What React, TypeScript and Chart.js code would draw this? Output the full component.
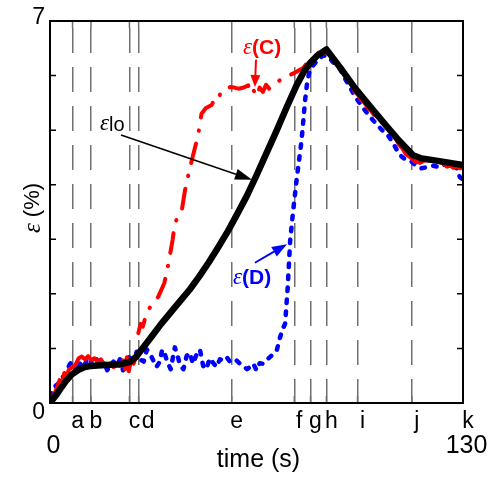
import React, { useEffect, useRef } from 'react';
import { Chart, registerables } from 'chart.js';

Chart.register(...registerables);

// ---------- data ----------
const EVENT_TIMES = [7.1, 12.9, 25, 27.9, 57.2, 76.9, 82, 87, 96.8, 113.9, 130];
const EVENT_LABELS = ['a', 'b', 'c', 'd', 'e', 'f', 'g', 'h', 'i', 'j', 'k'];
const X_END_VALUES = [0, 130];
const X_END_LABELS = ['0', '130'];
const Y_TICKS = [1, 2, 3, 4, 5, 6];
const Y_LABEL_VALUES = [0, 7];
const Y_LABELS = ['0', '7'];

// eps_lo (black)
const T_LO = [0, 2, 3.5, 5, 7, 9, 11, 13, 16, 19, 22, 25, 27, 29.4, 32, 35, 38, 41, 44, 47, 50, 53, 56, 59, 62, 65, 68, 71.4, 74.5, 77.6, 80, 82, 84, 87, 91.3, 96, 101.7, 106, 110, 114.3, 117, 120.6, 125, 130];
const V_LO = [0, 0.15, 0.28, 0.4, 0.53, 0.61, 0.66, 0.68, 0.69, 0.7, 0.71, 0.75, 0.84, 1.02, 1.22, 1.45, 1.66, 1.87, 2.08, 2.32, 2.58, 2.86, 3.15, 3.47, 3.8, 4.17, 4.56, 5.0, 5.42, 5.82, 6.08, 6.24, 6.36, 6.48, 6.15, 5.77, 5.37, 5.07, 4.8, 4.54, 4.48, 4.45, 4.41, 4.36];

// eps(C) (red)
const T_C = [0, 1, 2, 3, 3.8, 4.5, 5.2, 6, 7, 8, 9, 10, 11, 12, 13, 14, 15, 16, 17, 18, 19, 20, 21, 22, 23, 23.6, 24.2, 24.8, 25.5, 26.3, 27, 27.5,
  27.65,
  27.8, 28.5, 29.2, 30.4, 32, 34.1, 36, 37.1, 38.6, 39.3, 41.5, 42.5, 44, 46.6, 47.7, 49, 50.9, 52, 53, 54, 55.5, 56.7, 58, 59.3, 61, 62.4, 63, 64, 65, 66, 67, 68, 69, 70.3, 72, 74.3, 77, 79.7, 80.5, 81.5, 82.5, 83.5, 84.5, 86, 87,
  88, 90, 92, 94, 95, 96, 97, 98, 99, 100, 101, 102, 103, 104.5, 106, 108, 110, 111, 112, 113, 114, 115, 116.5, 118, 120, 122, 124, 125, 126, 127, 128, 129, 130];
const V_C = [0.05, 0.12, 0.25, 0.42, 0.35, 0.55, 0.5, 0.62, 0.65, 0.7, 0.82, 0.85, 0.8, 0.86, 0.78, 0.82, 0.76, 0.8, 0.7, 0.68, 0.72, 0.66, 0.7, 0.68, 0.78, 0.62, 0.84, 0.58, 0.8, 0.72, 0.84, 0.86,
  null,
  1.28, 1.45, 1.4, 1.65, 1.8, 1.95, 2.2, 2.5, 2.99, 3.3, 3.53, 3.9, 4.3, 4.9, 5.3, 5.4, 5.46, 5.6, 5.58, 5.72, 5.75, 5.79, 5.78, 5.76, 5.78, 5.82, 5.68, 5.74, 5.62, 5.78, 5.7, 5.83, 5.76, 5.8, 5.9, 5.98, 6.05, 6.14, 6.2, 6.12, 6.3, 6.25, 6.42, 6.41, 6.43,
  6.38, 6.25, 6.09, 5.93, 5.83, 5.7, 5.64, 5.55, 5.5, 5.41, 5.36, 5.28, 5.26, 5.18, 5.07, 4.93, 4.72, 4.66, 4.56, 4.52, 4.47, 4.42, 4.4, 4.45, 4.45, 4.43, 4.38, 4.33, 4.35, 4.31, 4.33, 4.3, 4.32];

// eps(D) (blue)
const T_D = [0, 0.6, 1.5, 2.5, 3.5, 4.5, 5.5, 6.3, 7.2, 8.4, 9.5, 10.5, 11.5, 12.5, 13.5, 14.7, 15.8, 17, 18, 18.9, 20, 21, 22, 23, 24, 25.2, 26.3, 27.3, 28.3, 29.5, 30.5, 31.5, 32.5, 33.5, 34.6, 35.3, 36, 37, 38, 39.3, 40.2, 40.9, 42, 43, 44, 45, 46.2, 47.2, 48.2, 49.2, 50.3, 51.3, 52.4, 53.5, 54.5, 55.6, 56.6, 57.6, 58.7, 59.8, 60.8, 62, 63, 64, 65, 66, 67, 68, 69.2, 70.3, 71.4, 72.4, 73.2, 74, 74.8, 75.6, 76.5, 77.6, 78.4, 79.2, 80.3, 81, 81.8, 83, 84.5, 86, 87.5, 89, 91.3, 93, 94.4, 96, 98, 100, 101.7, 103, 104.5, 106, 108, 110, 111.5, 113.3, 115, 116.8, 118.6, 120.5, 122.8, 124.5, 126.9, 128, 129, 130];
const V_D = [0.12, 0.18, 0.3, 0.35, 0.45, 0.5, 0.62, 0.72, 0.76, 0.57, 0.72, 0.64, 0.78, 0.68, 0.84, 0.8, 0.64, 0.76, 0.6, 0.68, 0.76, 0.68, 0.8, 0.6, 0.72, 0.88, 0.74, 0.94, 0.8, 0.76, 0.98, 0.9, 0.78, 0.66, 0.76, 0.98, 0.92, 0.74, 0.62, 1.02, 0.86, 0.7, 0.62, 0.86, 0.92, 0.72, 0.9, 0.98, 0.68, 0.62, 0.82, 0.74, 0.66, 0.8, 0.78, 0.84, 0.76, 0.8, 0.78, 0.72, 0.68, 0.62, 0.66, 0.72, 0.6, 0.73, 0.72, 0.78, 0.84, 0.9, 0.97, 1.2, 1.35, 1.45, 2.1, 2.98, 3.5, 4.08, 4.45, 4.82, 5.55, 5.9, 6.1, 6.2, 6.3, 6.37, 6.35, 6.25, 6.12, 5.93, 5.79, 5.62, 5.45, 5.3, 5.18, 5.1, 5.0, 4.94, 4.76, 4.55, 4.48, 4.45, 4.36, 4.3, 4.32, 4.35, 4.32, 4.38, 4.4, 4.3, 4.14, 4.1];

// ---------- annotation config (data coordinates) ----------
const SANS = "'Liberation Sans', Arial, sans-serif";
const SERIF = "'Liberation Serif', 'Times New Roman', serif";
const ANNOTATIONS = [
  {
    color: '#000000', textAt: [15.74, 5.0],
    parts: [{ text: 'ε', font: `italic 23px ${SERIF}`, dy: 0 }, { text: 'lo', font: `20px ${SANS}`, dy: 1 }],
    arrowFrom: [22.35, 4.91], arrowTo: [63.58, 4.09], lw: 1.5, headLen: 17, headW: 11,
  },
  {
    color: '#ff0000', textAt: [60.75, 6.4],
    parts: [{ text: 'ε', font: `italic 23px ${SERIF}`, dy: 0 }, { text: '(C)', font: `bold 21px ${SANS}`, dy: 0 }],
    arrowFrom: [64.84, 6.29], arrowTo: [64.5, 5.79], lw: 2, headLen: 12, headW: 10,
  },
  {
    color: '#0000ff', textAt: [57.6, 2.18],
    parts: [{ text: 'ε', font: `italic 23px ${SERIF}`, dy: 0 }, { text: '(D)', font: `bold 21px ${SANS}`, dy: 0 }],
    arrowFrom: [64.5, 2.57], arrowTo: [74.6, 2.91], lw: 2, headLen: 15, headW: 11,
  },
];

const GRID_GRAY = '#707070';

function toXY(t: number[], v: (number | null)[]) {
  return t.map((x, i) => ({ x, y: v[i] }));
}

function drawArrow(ctx: CanvasRenderingContext2D, x0: number, y0: number, x1: number, y1: number, color: string, lw: number, headLen: number, headW: number) {
  const ang = Math.atan2(y1 - y0, x1 - x0);
  const bx = x1 - headLen * Math.cos(ang);
  const by = y1 - headLen * Math.sin(ang);
  ctx.save();
  ctx.strokeStyle = color;
  ctx.fillStyle = color;
  ctx.lineWidth = lw;
  ctx.beginPath();
  ctx.moveTo(x0, y0);
  ctx.lineTo(bx, by);
  ctx.stroke();
  ctx.beginPath();
  ctx.moveTo(x1, y1);
  ctx.lineTo(bx + (headW / 2) * Math.sin(ang), by - (headW / 2) * Math.cos(ang));
  ctx.lineTo(bx - (headW / 2) * Math.sin(ang), by + (headW / 2) * Math.cos(ang));
  ctx.closePath();
  ctx.fill();
  ctx.restore();
}

const decorPlugin = {
  id: 'decor',
  beforeDraw(chart: any) {
    const { ctx, width, height } = chart;
    ctx.save();
    ctx.fillStyle = '#ffffff';
    ctx.fillRect(0, 0, width, height);
    ctx.restore();
  },
  afterDraw(chart: any) {
    const { ctx, chartArea } = chart;
    const xs = chart.scales.x;
    const ys = chart.scales.y;
    const { left, right, top, bottom } = chartArea;
    ctx.save();

    // small top / bottom ticks at event lines
    ctx.strokeStyle = GRID_GRAY;
    ctx.lineWidth = 1.5;
    EVENT_TIMES.slice(0, -1).forEach((t) => {
      const px = xs.getPixelForValue(t);
      ctx.beginPath();
      ctx.moveTo(px, top);
      ctx.lineTo(px, top + 7);
      ctx.moveTo(px, bottom);
      ctx.lineTo(px, bottom - 7);
      ctx.stroke();
    });

    // frame
    ctx.strokeStyle = '#000000';
    ctx.lineWidth = 2;
    ctx.strokeRect(left, top, right - left, bottom - top);

    // inward y ticks on both sides
    ctx.lineWidth = 1.5;
    Y_TICKS.forEach((v) => {
      const py = ys.getPixelForValue(v);
      ctx.beginPath();
      ctx.moveTo(left, py);
      ctx.lineTo(left + 6, py);
      ctx.moveTo(right, py);
      ctx.lineTo(right - 6, py);
      ctx.stroke();
    });

    ctx.fillStyle = '#000000';
    // y labels
    ctx.font = `23px ${SANS}`;
    ctx.textAlign = 'right';
    ctx.textBaseline = 'middle';
    Y_LABEL_VALUES.forEach((v, i) => {
      const py = ys.getPixelForValue(v);
      const shift = v === 0 ? 10 : -3;
      ctx.fillText(Y_LABELS[i], left - 5, py + shift);
    });

    // event letters (centered a little right of each line, never overlapping)
    ctx.textBaseline = 'alphabetic';
    ctx.textAlign = 'left';
    ctx.font = `23px ${SANS}`;
    let prevEnd = -Infinity;
    EVENT_TIMES.forEach((t, i) => {
      const px = xs.getPixelForValue(t);
      const w = ctx.measureText(EVENT_LABELS[i]).width;
      let x0 = px + 5 - w / 2;
      if (x0 < prevEnd + 1.5) x0 = prevEnd + 1.5;
      ctx.fillText(EVENT_LABELS[i], x0, bottom + 25);
      prevEnd = x0 + w;
    });

    // end values
    ctx.textAlign = 'center';
    ctx.font = `25px ${SANS}`;
    X_END_VALUES.forEach((v, i) => {
      const px = xs.getPixelForValue(v);
      ctx.fillText(X_END_LABELS[i], px + 3.5, bottom + 50);
    });

    // x title
    ctx.font = `25px ${SANS}`;
    ctx.fillText('time (s)', (left + right) / 2 + 2, bottom + 64);

    // y title (rotated)
    ctx.save();
    ctx.translate(33, (top + bottom) / 2 - 4);
    ctx.rotate(-Math.PI / 2);
    ctx.textBaseline = 'middle';
    ctx.textAlign = 'left';
    const p1 = 'ε';
    const p2 = ' (%)';
    ctx.font = `italic 25px ${SERIF}`;
    const w1 = ctx.measureText(p1).width;
    ctx.font = `22px ${SANS}`;
    const w2 = ctx.measureText(p2).width;
    const start = -(w1 + w2) / 2;
    ctx.font = `italic 25px ${SERIF}`;
    ctx.fillText(p1, start, 0);
    ctx.font = `22px ${SANS}`;
    ctx.fillText(p2, start + w1, 0);
    ctx.restore();

    // annotations
    ANNOTATIONS.forEach((a) => {
      let cx = xs.getPixelForValue(a.textAt[0]);
      const cy = ys.getPixelForValue(a.textAt[1]);
      ctx.fillStyle = a.color;
      ctx.textAlign = 'left';
      ctx.textBaseline = 'alphabetic';
      a.parts.forEach((p) => {
        ctx.font = p.font;
        ctx.fillText(p.text, cx, cy + p.dy);
        cx += ctx.measureText(p.text).width;
      });
      drawArrow(
        ctx,
        xs.getPixelForValue(a.arrowFrom[0]), ys.getPixelForValue(a.arrowFrom[1]),
        xs.getPixelForValue(a.arrowTo[0]), ys.getPixelForValue(a.arrowTo[1]),
        a.color, a.lw, a.headLen, a.headW,
      );
    });

    ctx.restore();
  },
};

export default function App() {
  const ref = useRef<HTMLCanvasElement>(null);
  useEffect(() => {
    const chart = new Chart(ref.current as HTMLCanvasElement, {
      type: 'line',
      data: {
        datasets: [
          {
            label: 'eps_lo',
            data: toXY(T_LO, V_LO),
            borderColor: '#000000',
            borderWidth: 6.5,
            pointRadius: 0,
            borderJoinStyle: 'round',
            borderCapStyle: 'round',
            tension: 0,
            fill: false,
          },
          {
            label: 'eps_C',
            data: toXY(T_C, V_C),
            borderColor: '#ff0000',
            borderWidth: 4,
            pointRadius: 0,
            borderJoinStyle: 'round',
            borderCapStyle: 'round',
            tension: 0,
            fill: false,
            spanGaps: false,
            segment: {
              borderDash: (c: any) => (c.p0.parsed.x >= 27.7 && c.p1.parsed.x <= 87.05 ? [20, 13, 0.5, 13] : undefined),
            },
          },
          {
            label: 'eps_D',
            data: toXY(T_D, V_D),
            borderColor: '#0000ff',
            borderWidth: 4.5,
            pointRadius: 0,
            borderDash: [3.5, 8.5],
            borderCapStyle: 'round',
            borderJoinStyle: 'round',
            tension: 0,
            fill: false,
          },
        ],
      } as any,
      options: {
        animation: false,
        responsive: false,
        devicePixelRatio: 1,
        layout: { padding: { left: 50, top: 21, right: 30, bottom: 75 } },
        plugins: { legend: { display: false }, tooltip: { enabled: false } },
        events: [],
        scales: {
          x: {
            type: 'linear',
            min: 0,
            max: 130,
            afterBuildTicks: (scale: any) => {
              scale.ticks = EVENT_TIMES.slice(0, -1).map((v) => ({ value: v }));
            },
            ticks: { display: false },
            grid: { display: true, color: GRID_GRAY, lineWidth: 1.5, drawTicks: false },
            border: { display: true, color: '#000000', width: 2, dash: [25, 14], dashOffset: 32 },
          },
          y: {
            type: 'linear',
            min: 0,
            max: 7,
            ticks: { display: false },
            grid: { display: false, drawTicks: false },
            border: { display: true, color: '#000000', width: 2 },
          },
        },
      } as any,
      plugins: [decorPlugin],
    });
    return () => chart.destroy();
  }, []);
  return (
    <div style={{ position: 'fixed', left: 0, top: 0, width: 493, height: 478, background: '#ffffff' }}>
      <canvas ref={ref} width={493} height={478} style={{ display: 'block', width: 493, height: 478 }} />
    </div>
  );
}
